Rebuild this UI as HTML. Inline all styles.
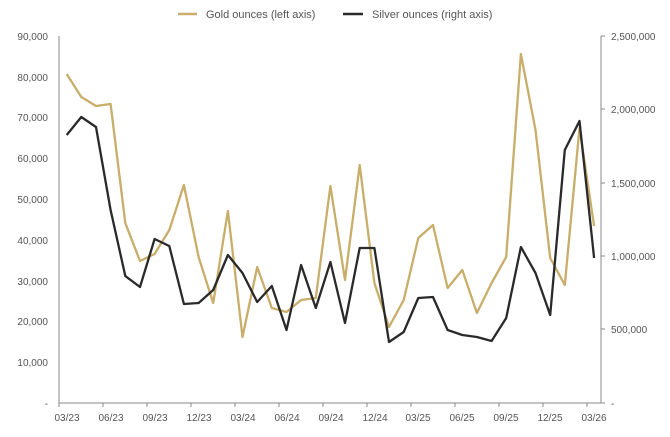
<!DOCTYPE html>
<html><head><meta charset="utf-8"><style>
body{margin:0;background:#fff}
svg{display:block;font-family:"Liberation Sans",sans-serif}
text{fill:#555;font-size:10px}
</style></head><body>
<svg width="670" height="437" viewBox="0 0 670 437">
<line x1="178" y1="14" x2="197" y2="14" stroke="#c9ad6a" stroke-width="2.5"/>
<text x="206" y="18" style="font-size:11px">Gold ounces (left axis)</text>
<line x1="343" y1="14" x2="363" y2="14" stroke="#2a2a2a" stroke-width="2.5"/>
<text x="372" y="18" style="font-size:11px">Silver ounces (right axis)</text>
<g stroke="#888" stroke-width="1">
<line x1="59" y1="36" x2="59" y2="403"/>
<line x1="59" y1="403" x2="601" y2="403"/>
<line x1="601" y1="36" x2="601" y2="403"/>
<line x1="59" y1="403" x2="59" y2="407"/><line x1="103" y1="403" x2="103" y2="407"/><line x1="147" y1="403" x2="147" y2="407"/><line x1="191" y1="403" x2="191" y2="407"/><line x1="235" y1="403" x2="235" y2="407"/><line x1="279" y1="403" x2="279" y2="407"/><line x1="323" y1="403" x2="323" y2="407"/><line x1="367" y1="403" x2="367" y2="407"/><line x1="411" y1="403" x2="411" y2="407"/><line x1="455" y1="403" x2="455" y2="407"/><line x1="499" y1="403" x2="499" y2="407"/><line x1="543" y1="403" x2="543" y2="407"/><line x1="587" y1="403" x2="587" y2="407"/>
<line x1="601" y1="36" x2="605" y2="36"/><line x1="601" y1="109" x2="605" y2="109"/><line x1="601" y1="183" x2="605" y2="183"/><line x1="601" y1="256" x2="605" y2="256"/><line x1="601" y1="329" x2="605" y2="329"/><line x1="601" y1="403" x2="605" y2="403"/>
</g>
<g text-anchor="end">
<text x="48" y="40">90,000</text><text x="48" y="81">80,000</text><text x="48" y="121">70,000</text><text x="48" y="162">60,000</text><text x="48" y="203">50,000</text><text x="48" y="244">40,000</text><text x="48" y="285">30,000</text><text x="48" y="325">20,000</text><text x="48" y="366">10,000</text><text x="48" y="407">-</text>
</g>
<g>
<text x="611" y="40">2,500,000</text><text x="611" y="113">2,000,000</text><text x="611" y="187">1,500,000</text><text x="611" y="260">1,000,000</text><text x="611" y="333">500,000</text><text x="611" y="407">-</text>
</g>
<g text-anchor="middle">
<text x="67" y="421">03/23</text><text x="111" y="421">06/23</text><text x="155" y="421">09/23</text><text x="199" y="421">12/23</text><text x="243" y="421">03/24</text><text x="287" y="421">06/24</text><text x="331" y="421">09/24</text><text x="375" y="421">12/24</text><text x="418" y="421">03/25</text><text x="462" y="421">06/25</text><text x="506" y="421">09/25</text><text x="550" y="421">12/25</text><text x="594" y="421">03/26</text>
</g>
<polyline fill="none" stroke="#c9ad6a" stroke-width="2.3" stroke-linejoin="round" points="66.7,74 81.3,97 96,106 110.6,104 125.3,223 140,261 154.6,254 169.3,230 183.9,185 198.6,257 213.2,303 227.9,211 242.5,337 257.2,267 271.8,308 286.5,312 301.1,300 315.8,298 330.4,186 345,280 359.7,165 374.4,283 389,327 403.7,300 418.3,238 433,225 447.6,288 462.3,270 476.9,313 491.6,283 506.2,257 520.9,54 535.5,130 550.2,258 564.8,285 579.5,128 594.1,226"/>
<polyline fill="none" stroke="#2a2a2a" stroke-width="2.3" stroke-linejoin="round" points="66.7,135 81.3,117 96,127 110.6,210 125.3,276 140,287 154.6,239 169.3,246 183.9,304 198.6,303 213.2,290 227.9,255 242.5,273 257.2,302 271.8,286 286.5,330 301.1,265 315.8,308 330.4,262 345,323 359.7,248 374.4,248 389,342 403.7,332 418.3,298 433,297 447.6,330 462.3,335 476.9,337 491.6,341 506.2,318 520.9,247 535.5,273 550.2,315 564.8,150 579.5,121 594.1,258"/>
</svg>
</body></html>
